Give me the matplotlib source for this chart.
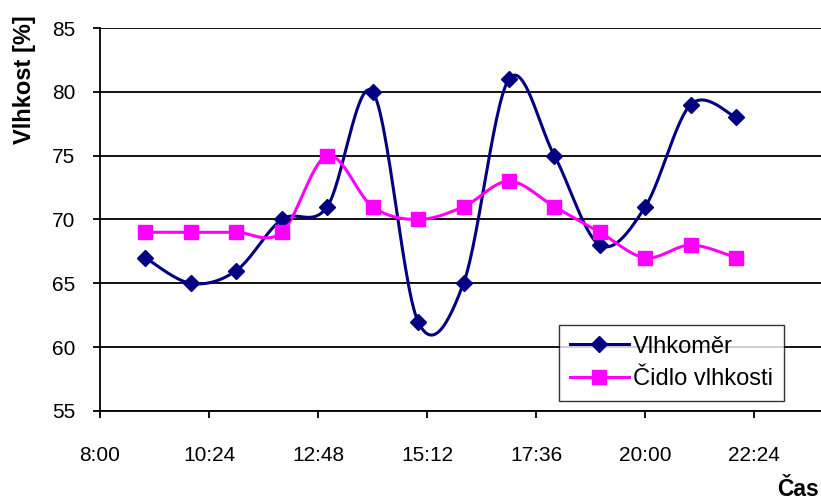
import numpy as np
import matplotlib.pyplot as plt

plt.rcParams['font.family'] = ['Liberation Sans', 'DejaVu Sans']

# data: hourly readings (hour of day)
hours = [9, 10, 11, 12, 13, 14, 15, 16, 17, 18, 19, 20, 21, 22]
vlhkomer = [67, 65, 66, 70, 71, 80, 62, 65, 81, 75, 68, 71, 79, 78]
cidlo = [69, 69, 69, 69, 75, 71, 70, 71, 73, 71, 69, 67, 68, 67]
xticks_min = [480, 624, 768, 912, 1056, 1200, 1344]
xtick_labels = ['8:00', '10:24', '12:48', '15:12', '17:36', '20:00', '22:24']
yticks = [55, 60, 65, 70, 75, 80, 85]


def smooth(x, y, n=30):
    # excel-like bezier smoothing through the points
    x = np.asarray(x, float)
    y = np.asarray(y, float)
    px = np.concatenate([[x[0]], x, [x[-1]]])
    py = np.concatenate([[y[0]], y, [y[-1]]])
    t = np.linspace(0, 1, n)
    ox, oy = [], []
    for i in range(1, len(px) - 2):
        p0 = np.array([px[i], py[i]])
        p3 = np.array([px[i + 1], py[i + 1]])
        c1 = p0 + (np.array([px[i + 1], py[i + 1]]) - np.array([px[i - 1], py[i - 1]])) / 6
        c2 = p3 - (np.array([px[i + 2], py[i + 2]]) - np.array([px[i], py[i]])) / 6
        b = ((1 - t) ** 3)[:, None] * p0 + (3 * (1 - t) ** 2 * t)[:, None] * c1 \
            + (3 * (1 - t) * t ** 2)[:, None] * c2 + (t ** 3)[:, None] * p3
        ox.extend(b[:, 0])
        oy.extend(b[:, 1])
    return np.array(ox), np.array(oy)


W, H = 821, 500
fig = plt.figure(figsize=(W / 100, H / 100), dpi=100)
ax = fig.add_axes([100 / W, 89 / H, 727 / W, 383 / H])

mins = [h * 60 for h in hours]
sx, sy = smooth(mins, vlhkomer)
ax.plot(sx, sy, color='#000080', lw=2.2, zorder=3)
ax.plot(mins, vlhkomer, 'D', color='#000080', ms=8.5, zorder=4)
ax.plot([], [], color='#000080', lw=2.2, marker='D', ms=8, label='Vlhkoměr')

sx, sy = smooth(mins, cidlo)
ax.plot(sx, sy, color='#FF00FF', lw=2.2, zorder=3)
ax.plot(mins, cidlo, 's', color='#FF00FF', ms=10, zorder=4)
ax.plot([], [], color='#FF00FF', lw=2.2, marker='s', ms=10, label='Čidlo vlhkosti')

ax.set_xlim(480, 1440)
ax.set_ylim(55, 85)
ax.set_yticks(yticks)
ax.set_xticks(xticks_min)
ax.set_xticklabels(xtick_labels)
ax.grid(axis='y', color='black', lw=1.3)
ax.set_axisbelow(True)
for s in ['top', 'right']:
    ax.spines[s].set_visible(False)
ax.spines['left'].set_linewidth(1.3)
ax.spines['bottom'].set_linewidth(1.3)
ax.tick_params(axis='y', direction='out', length=5, width=1.3, pad=13, labelsize=15, colors='black')
ax.tick_params(axis='x', direction='out', length=5, width=1.3, pad=20, labelsize=15, colors='black')

handles, labels = ax.get_legend_handles_labels()
leg = fig.legend(handles, labels, loc='upper left', bbox_to_anchor=(559 / W, 1 - 325 / H),
                 fontsize=17, frameon=True, fancybox=False, edgecolor='black',
                 handlelength=2.5, handletextpad=0.2, borderpad=0.45, labelspacing=0.45,
                 borderaxespad=0)
leg.get_frame().set_linewidth(1.0)
leg.set_zorder(5)

fig.text(24 / W, 1 - 80 / H, 'Vlhkost [%]', rotation=90, ha='center', va='center',
         fontsize=17, fontweight='bold')
fig.text(798 / W, 1 - 490 / H, 'Čas', ha='center', va='center', fontsize=16.5, fontweight='bold')

fig.savefig('out.png', dpi=100, facecolor='white')
